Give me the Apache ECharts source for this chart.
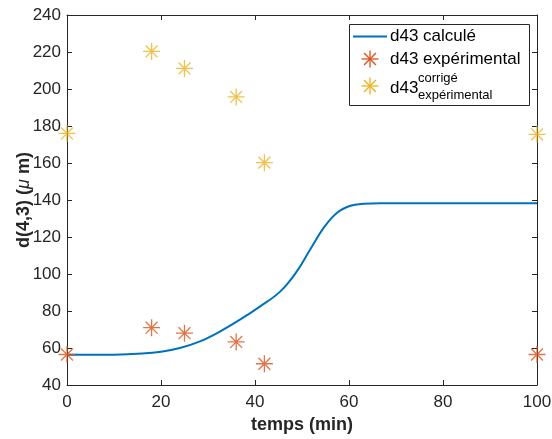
<!DOCTYPE html>
<html>
<head>
<meta charset="utf-8">
<script src="https://cdn.jsdelivr.net/npm/echarts@6/dist/echarts.min.js"></script>
<style>html,body{margin:0;padding:0;background:#fff}#c{width:552px;height:439px}</style>
</head>
<body>
<div id="c"></div>
<script>
// Data
var curveX = [0, 10, 16, 20, 24, 28.3, 32.6, 36.8, 41.1, 45.4, 48.9, 51.7, 54.6, 57.4, 60.3, 63.1, 66.7, 80, 100];
var curveY = [56.3, 56.4, 57, 58, 60, 63.6, 69, 75.3, 82.5, 90.6, 101.4, 113.1, 124.9, 133, 136.9, 138, 138.3, 138.3, 138.3];
var expX = [0, 18, 25, 36, 42, 100];
var expY = [56.5, 71, 68, 63.3, 51.5, 56.5];
var corrY = [176, 220.3, 211.1, 195.7, 160.2, 175.5];
var xTicks = [0, 20, 40, 60, 80, 100];
var yTicks = [40, 60, 80, 100, 120, 140, 160, 180, 200, 220, 240];
var names = ['d43 calculé', 'd43 expérimental', 'd43', 'corrigé', 'expérimental'];

var BLUE = '#0072BD', RED = '#D95319', YEL = '#EDB120', AX = '#262626';
var FONT = '"Liberation Sans", Arial, Helvetica, sans-serif';
var STAR = 'path://M10,0 L10,20 M0,10 L20,10 M3,3 L17,17 M3,17 L17,3';

function zip(a, b) { return a.map(function (v, i) { return [v, b[i]]; }); }
function starGraphic(cx, cy, r, color) {
  var d = r * 0.7;
  var segs = [[0, -r, 0, r], [-r, 0, r, 0], [-d, -d, d, d], [-d, d, d, -d]];
  return segs.map(function (s) {
    return {type: 'line', z: 11, shape: {x1: cx + s[0], y1: cy + s[1], x2: cx + s[2], y2: cy + s[3]},
      style: {stroke: color, lineWidth: 1.3}};
  });
}

var chart = echarts.init(document.getElementById('c'), null, {renderer: 'canvas'});
var axisCommon = {
  axisLine: {show: true, onZero: false, lineStyle: {color: AX, width: 1}},
  axisTick: {show: true, inside: true, length: 5, lineStyle: {color: AX}},
  splitLine: {show: false},
  nameMoveOverlap: false
};
var graphics = [
  {type: 'rect', z: 10, shape: {x: 349.5, y: 24.5, width: 180, height: 81},
    style: {fill: '#fff', stroke: AX, lineWidth: 1}},
  {type: 'line', z: 11, shape: {x1: 353, y1: 36.5, x2: 387, y2: 36.5}, style: {stroke: BLUE, lineWidth: 2}},
  {type: 'text', z: 11, x: 390, y: 36.5, style: {text: names[0], font: '17px ' + FONT, fill: '#000', verticalAlign: 'middle'}},
  {type: 'text', z: 11, x: 390, y: 59.5, style: {text: names[1], font: '17px ' + FONT, fill: '#000', verticalAlign: 'middle'}},
  {type: 'text', z: 11, x: 390, y: 88, style: {text: names[2], font: '17px ' + FONT, fill: '#000', verticalAlign: 'middle'}},
  {type: 'text', z: 11, x: 418, y: 78, style: {text: names[3], font: '13px ' + FONT, fill: '#000', verticalAlign: 'middle'}},
  {type: 'text', z: 11, x: 418, y: 95.5, style: {text: names[4], font: '13px ' + FONT, fill: '#000', verticalAlign: 'middle'}}
].concat(starGraphic(370, 59, 8.5, RED), starGraphic(370, 86, 8.5, YEL));

chart.setOption({
  animation: false,
  grid: {left: 67, right: 15, top: 15, bottom: 54, containLabel: false, outerBoundsMode: 'none'},
  xAxis: [
    Object.assign({
      type: 'value', min: 0, max: 100, interval: 20, position: 'bottom',
      name: 'temps (min)', nameLocation: 'middle', nameGap: 40,
      nameTextStyle: {fontFamily: FONT, fontWeight: 'bold', fontSize: 18, color: AX, verticalAlign: 'middle'},
      axisLabel: {fontFamily: FONT, fontSize: 17, color: AX, margin: 9,
        formatter: function (v) { return xTicks.indexOf(v) >= 0 ? String(v) : ''; }}
    }, axisCommon),
    Object.assign({
      type: 'value', min: 0, max: 100, interval: 20, position: 'top', axisLabel: {show: false}
    }, axisCommon)
  ],
  yAxis: [
    Object.assign({
      type: 'value', min: 40, max: 240, interval: 20, position: 'left',
      name: 'd(4,3) ({i|μ} m)', nameLocation: 'middle', nameGap: 43,
      nameTextStyle: {fontFamily: FONT, fontWeight: 'bold', fontSize: 18, color: AX, verticalAlign: 'middle',
        rich: {i: {fontFamily: FONT, fontStyle: 'italic', fontWeight: 'normal', fontSize: 18, color: AX}}},
      axisLabel: {fontFamily: FONT, fontSize: 17, color: AX, margin: 6,
        formatter: function (v) { return yTicks.indexOf(v) >= 0 ? String(v) : ''; }}
    }, axisCommon),
    Object.assign({
      type: 'value', min: 40, max: 240, interval: 20, position: 'right', axisLabel: {show: false}
    }, axisCommon)
  ],
  series: [
    {
      name: names[0], type: 'line', data: zip(curveX, curveY), smooth: 0.4,
      showSymbol: false, symbol: 'none', lineStyle: {color: BLUE, width: 2}, z: 2
    },
    {
      name: names[1], type: 'scatter', data: zip(expX, expY), symbol: STAR, symbolSize: 17,
      itemStyle: {color: 'rgba(0,0,0,0)', borderColor: RED, borderWidth: 1.3}, z: 3
    },
    {
      name: 'corr', type: 'scatter', data: zip(expX, corrY), symbol: STAR, symbolSize: 17,
      itemStyle: {color: 'rgba(0,0,0,0)', borderColor: YEL, borderWidth: 1.3}, z: 3
    }
  ],
  graphic: graphics
});
</script>
</body>
</html>
